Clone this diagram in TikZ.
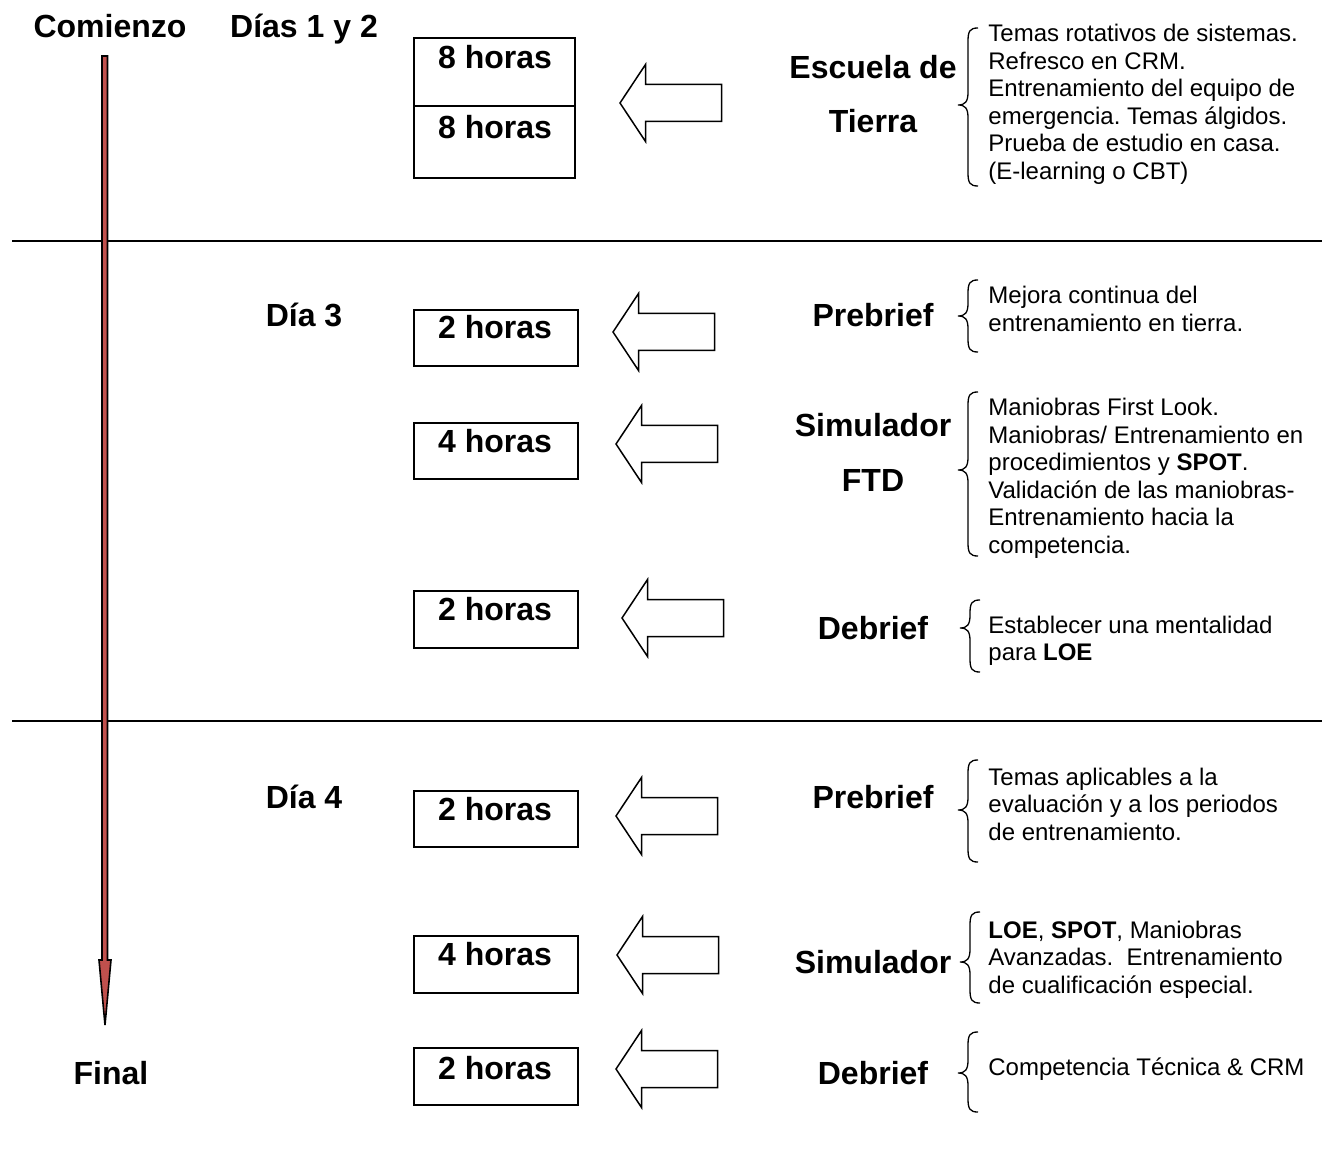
\documentclass[tikz,border=0pt]{standalone}
\usepackage{fontspec}
\setmainfont{Liberation Sans}
\frenchspacing
\definecolor{tlred}{HTML}{C0504D}
% curly bracket: tip x, top y, tip y, bottom y
\newcommand\curly[4]{%
  \draw[brc] (#1+20,#2) .. controls (#1+12,#2) and (#1+10,#2+3) .. (#1+10,#2+13)
    -- (#1+10,#3-13) .. controls (#1+10,#3-3) and (#1+7,#3) .. (#1,#3)
    .. controls (#1+7,#3) and (#1+10,#3+3) .. (#1+10,#3+13)
    -- (#1+10,#4-13) .. controls (#1+10,#4-3) and (#1+12,#4) .. (#1+20,#4);}
\newcommand\notetext[1]{\begin{tabular}[t]{@{}l@{}}#1\end{tabular}}
\begin{document}
\begin{tikzpicture}[x=0.5pt,y=-0.5pt,
  lbl/.style={font=\fontsize{16pt}{19pt}\selectfont\bfseries, anchor=base, inner sep=0pt},
  note/.style={font=\fontsize{12pt}{13.75pt}\selectfont, anchor=base west, inner sep=0pt},
  hbox/.style={draw, line width=1pt, anchor=north west, inner sep=0pt},
  sep/.style={line width=0.8pt},
  hollow/.style={draw, line width=0.75pt, fill=white, line join=miter},
  brc/.style={line width=0.65pt},
  hollowarrow/.pic={\draw[hollow] (0,0) -- (25.5,-38.5) -- (25.5,-18.5) -- (101.5,-18.5)
      -- (101.5,18.5) -- (25.5,18.5) -- (25.5,38.5) -- cycle;}
]
\useasboundingbox (0,0) rectangle (1325,1159);

% section separators
\draw[sep] (12,241) -- (1322,241);
\draw[sep] (12,721) -- (1322,721);

% time line
\filldraw[fill=tlred, draw=black, line width=0.8pt, line join=miter]
  (102,56) -- (107.5,56) -- (107.5,960) -- (111,960) -- (105,1025)
  -- (99,960) -- (102,960) -- cycle;

% left column labels
\node[lbl] (comienzo) at (110,38) {Comienzo};
\node[lbl] (final) at (111,1084) {Final};
\node[lbl] (dias12) at (304,38) {Días 1 y 2};
\node[lbl] (dia3) at (304,327) {Día 3};
\node[lbl] (dia4) at (304,808) {Día 4};

% hour boxes
\node[hbox, minimum width=80.5pt, minimum height=70pt] (box1) at (413,37) {};
\draw[line width=1pt] (box1.west |- 0,106) -- (box1.east |- 0,106);
\node[lbl] (h1a) at (495,69) {8 horas};
\node[lbl] (h1b) at (495,139) {8 horas};
\node[hbox, minimum width=82pt, minimum height=28pt] (box2) at (413,309) {};
\node[lbl] (h2) at (495,339) {2 horas};
\node[hbox, minimum width=82pt, minimum height=28pt] (box3) at (413,422) {};
\node[lbl] (h3) at (495,452) {4 horas};
\node[hbox, minimum width=82pt, minimum height=28.5pt] (box4) at (413,590) {};
\node[lbl] (h4) at (495,620) {2 horas};
\node[hbox, minimum width=82pt, minimum height=28pt] (box5) at (413,790) {};
\node[lbl] (h5) at (495,820) {2 horas};
\node[hbox, minimum width=82pt, minimum height=28.5pt] (box6) at (413,935) {};
\node[lbl] (h6) at (495,965) {4 horas};
\node[hbox, minimum width=82pt, minimum height=28.5pt] (box7) at (413,1047) {};
\node[lbl] (h7) at (495,1079) {2 horas};

% hollow arrows
\pic at (620,103) {hollowarrow};
\pic at (613,332) {hollowarrow};
\pic at (616,444) {hollowarrow};
\pic at (622,618) {hollowarrow};
\pic at (616,816) {hollowarrow};
\pic at (617,955) {hollowarrow};
\pic at (616,1069) {hollowarrow};

% activity labels
\node[lbl] (esc1) at (873,79) {Escuela de};
\node[lbl] (esc2) at (873,133) {Tierra};
\node[lbl] (pre1) at (873,327) {Prebrief};
\node[lbl] (sim1a) at (873,437) {Simulador};
\node[lbl] (sim1b) at (873,492) {FTD};
\node[lbl] (deb1) at (873,639) {Debrief};
\node[lbl] (pre2) at (873,808) {Prebrief};
\node[lbl] (sim2) at (873,973) {Simulador};
\node[lbl] (deb2) at (873,1084) {Debrief};

% brackets
\curly{958}{28}{105}{186}
\curly{958}{280}{316}{352}
\curly{958}{392}{470}{556}
\curly{960}{600}{628}{672}
\curly{958}{760}{810}{862}
\curly{960}{912}{962}{1003}
\curly{958}{1032}{1073}{1112}

% descriptions
\node[note] (n1) at (988,42) {\notetext{Temas rotativos de sistemas.\\ Refresco en CRM.\\
  Entrenamiento del equipo de\\ emergencia. Temas álgidos.\\ Prueba de estudio en casa.\\
  (E-learning o CBT)}};
\node[note] (n2) at (988,304) {\notetext{Mejora continua del\\ entrenamiento en tierra.}};
\node[note] (n3) at (988,416) {\notetext{Maniobras First Look.\\ Maniobras/ Entrenamiento en\\
  procedimientos y \textbf{SPOT}.\\ Validación de las maniobras-\\ Entrenamiento hacia la\\
  competencia.}};
\node[note] (n4) at (988,633) {\notetext{Establecer una mentalidad\\ para \textbf{LOE}}};
\node[note] (n5) at (988,785) {\notetext{Temas aplicables a la\\ evaluación y a los periodos\\
  de entrenamiento.}};
\node[note] (n6) at (988,938) {\notetext{\textbf{LOE}, \textbf{SPOT}, Maniobras\\
  Avanzadas.\ \ Entrenamiento\\ de cualificación especial.}};
\node[note] (n7) at (988,1075) {\notetext{Competencia Técnica \& CRM}};
\end{tikzpicture}
\end{document}
